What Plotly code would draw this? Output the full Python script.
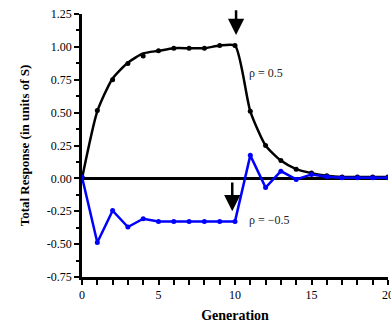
import plotly.graph_objects as go

generation = list(range(21))
# rho = 0.5 (smooth curve and observed points)
pos_curve = [0.0, 0.51, 0.76, 0.88, 0.95, 0.97, 0.99, 0.99, 0.99, 1.01, 1.01,
             0.51, 0.25, 0.135, 0.07, 0.04, 0.02, 0.01, 0.01, 0.01, 0.01]
pos_points = [0.01, 0.517, 0.75, 0.874, 0.93, 0.97, 0.99, 0.99, 0.99, 1.01, 1.01,
              0.51, 0.25, 0.135, 0.07, 0.04, 0.02, 0.01, 0.01, 0.01, 0.01]
# rho = -0.5
neg_values = [0.01, -0.487, -0.245, -0.37, -0.307, -0.327, -0.327, -0.327, -0.327, -0.327, -0.327,
              0.175, -0.07, 0.055, -0.008, 0.03, 0.012, 0.005, 0.005, 0.005, 0.005]

y_ticks = [1.25, 1.00, 0.75, 0.50, 0.25, 0.00, -0.25, -0.50, -0.75]
x_ticks = [0, 5, 10, 15, 20]

font = "Liberation Serif"

fig = go.Figure()
fig.add_trace(go.Scatter(x=generation, y=pos_curve, mode="lines",
                         line=dict(color="black", width=2.5, shape="spline", smoothing=0.6),
                         hoverinfo="skip", showlegend=False))
fig.add_trace(go.Scatter(x=generation, y=pos_points, mode="markers",
                         marker=dict(color="black", size=5), showlegend=False))
fig.add_trace(go.Scatter(x=generation, y=neg_values, mode="lines+markers",
                         line=dict(color="#0000ff", width=2.5),
                         marker=dict(color="#0000ff", size=5), showlegend=False))

fig.add_annotation(x=10.07, y=1.09, ax=10.07, ay=1.29, xref="x", yref="y", axref="x", ayref="y",
                   showarrow=True, arrowhead=2, arrowsize=1.3, arrowwidth=2.5, arrowcolor="black",
                   standoff=0, text="")
fig.add_annotation(x=9.82, y=-0.25, ax=9.82, ay=-0.02, xref="x", yref="y", axref="x", ayref="y",
                   showarrow=True, arrowhead=2, arrowsize=1.3, arrowwidth=2.5, arrowcolor="black",
                   standoff=0, text="")
fig.add_annotation(x=10.8, y=0.80, xref="x", yref="y", text="ρ = 0.5", showarrow=False,
                   xanchor="left", font=dict(family=font, size=12, color="#222"))
fig.add_annotation(x=10.8, y=-0.32, xref="x", yref="y", text="ρ = −0.5", showarrow=False,
                   xanchor="left", font=dict(family=font, size=12, color="#222"))

fig.update_layout(
    width=391, height=323,
    margin=dict(l=82, r=3, t=14, b=46, autoexpand=False),
    paper_bgcolor="white", plot_bgcolor="white",
    font=dict(family=font, size=12, color="black"),
    xaxis=dict(range=[0, 20], tickvals=x_ticks, ticktext=[str(v) for v in x_ticks],
               automargin=False, ticklabeloverflow="allow",
               showgrid=False, zeroline=False, showline=True, linecolor="black", linewidth=2.5,
               ticks="outside", ticklen=5, tickwidth=2, tickcolor="black",
               minor=dict(dtick=1, ticks="outside", ticklen=5, tickwidth=2, tickcolor="black"),
               title=dict(text="<b>Generation</b>", font=dict(family=font, size=14)),
               tickfont=dict(family=font, size=12)),
    yaxis=dict(range=[-0.75, 1.25], tickvals=y_ticks, ticktext=[f"{v:.2f}" for v in y_ticks],
               automargin=False,
               showgrid=False, zeroline=True, zerolinecolor="black", zerolinewidth=2.5,
               showline=True, linecolor="black", linewidth=2.5,
               ticks="outside", ticklen=5, tickwidth=2, tickcolor="black",
               minor=dict(dtick=0.125, tick0=0, ticks="outside", ticklen=3, tickwidth=2, tickcolor="black"),
               title=dict(text="<b>Total Response (in units of S)</b>", font=dict(family=font, size=13)),
               tickfont=dict(family=font, size=12)),
)

fig.write_html("out.html", config={"displayModeBar": False},
               post_script="document.body.style.margin='0px';")
